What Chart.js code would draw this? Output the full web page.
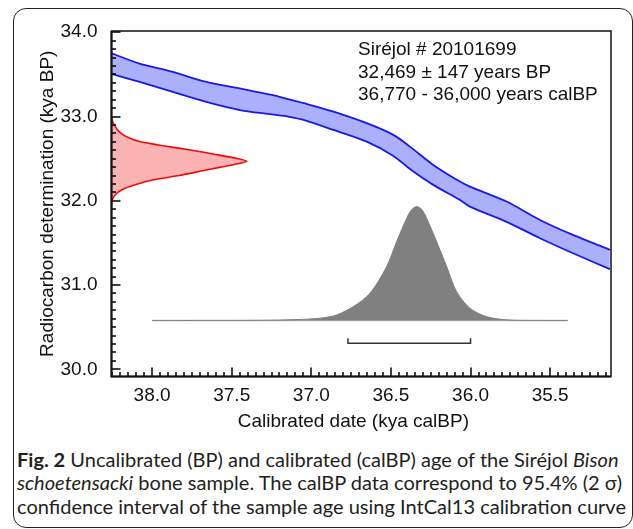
<!DOCTYPE html>
<html>
<head>
<meta charset="utf-8">
<script src="https://cdn.jsdelivr.net/npm/chart.js@4.4.1/dist/chart.umd.min.js"></script>
<style>
html, body { margin: 0; padding: 0; background: #fff; }
body { width: 633px; height: 529px; position: relative; overflow: hidden; font-family: "Liberation Sans", Arial, sans-serif; }
#frame { position: absolute; left: 13px; top: 8px; width: 620px; height: 520px; border: 1.5px solid #222; border-radius: 13px; box-sizing: border-box; }
#chart { position: absolute; left: 0; top: 0; }
#note { position: absolute; left: 358px; top: 38px; font-size: 19px; line-height: 22.7px; color: #111; white-space: nowrap; }
#caption { position: absolute; left: 17px; top: 448px; font-family: Lato, "Open Sans", sans-serif; font-size: 19.5px; line-height: 23.3px; color: #231f20; white-space: nowrap; transform-origin: 0 0; }
#caption b { font-weight: 700; }
</style>
</head>
<body>
<div id="frame"></div>
<canvas id="chart" width="633" height="445"></canvas>
<div id="note">Siréjol # 20101699<br>32,469 ± 147 years BP<br>36,770 - 36,000 years calBP</div>
<div id="caption">
  <div><b>Fig. 2</b> Uncalibrated (BP) and calibrated (calBP) age of the Siréjol <i>Bison</i></div>
  <div><i>schoetensacki</i> bone sample. The calBP data correspond to 95.4% (2 σ)</div>
  <div id="lastLine">confidence interval of the sample age using IntCal13 calibration curve</div>
</div>
<script>
// axis ticks
const xTicks = [38.0, 37.5, 37.0, 36.5, 36.0, 35.5];
const yTicks = [30.0, 31.0, 32.0, 33.0, 34.0];

// IntCal13 band (kya calBP -> kya BP)
const curveCal   = [38.255, 38.084, 37.875, 37.666, 37.457, 37.248, 37.146, 37.039, 36.861, 36.652, 36.485, 36.381, 36.234, 36.067, 36.004, 35.774, 35.564, 35.357, 35.125];
const curveUpper = [33.751, 33.632, 33.533, 33.414, 33.336, 33.256, 33.207, 33.155, 33.058, 32.921, 32.782, 32.643, 32.426, 32.228, 32.168, 31.991, 31.773, 31.595, 31.418];
const curveLower = [33.505, 33.414, 33.295, 33.177, 33.080, 33.025, 33.000, 32.955, 32.841, 32.702, 32.533, 32.378, 32.189, 32.011, 31.931, 31.750, 31.556, 31.378, 31.189];

// radiocarbon measurement (red, on the y axis)
const redBP  = [33.00, 32.95, 32.90, 32.85, 32.80, 32.75, 32.70, 32.65, 32.60, 32.55, 32.50, 32.469, 32.44, 32.40, 32.35, 32.30, 32.25, 32.20, 32.15, 32.10, 32.05, 32.00, 31.95];
const redCal = [38.255, 38.250, 38.238, 38.220, 38.195, 38.150, 38.075, 37.92, 37.75, 37.60, 37.46, 37.404, 37.46, 37.57, 37.70, 37.83, 37.99, 38.09, 38.17, 38.215, 38.240, 38.252, 38.255];

// calibrated distribution (grey)
const grayCal  = [38.0, 37.6, 37.3, 37.1, 36.945, 36.840, 36.736, 36.631, 36.527, 36.464, 36.401, 36.370, 36.339, 36.305, 36.276, 36.213, 36.150, 36.088, 36.004, 35.900, 35.774, 35.6, 35.39];
const grayDens = [30.579, 30.580, 30.582, 30.590, 30.607, 30.646, 30.745, 30.904, 31.219, 31.516, 31.794, 31.895, 31.931, 31.895, 31.794, 31.516, 31.219, 30.923, 30.726, 30.626, 30.587, 30.580, 30.579];
const grayBaseCal = [38.0, 35.39];
const grayBase = 30.579;

// 95.4% range bracket
const rangeCal = [36.77, 36.77, 36.0, 36.0];
const rangeBP  = [30.37, 30.311, 30.311, 30.37];

const pts = (xs, ys) => xs.map((v, i) => ({x: v, y: ys[i]}));

// inward ticks + plot frame
const frameTicks = {
  id: 'frameTicks',
  afterDraw(chart) {
    const {ctx, chartArea: a, scales} = chart;
    const x = scales.x, y = scales.y;
    ctx.save();
    ctx.strokeStyle = '#000';
    ctx.lineWidth = 1.5;
    ctx.beginPath();
    for (let k = 703; k <= 765; k++) {
      const px = Math.round(x.getPixelForValue(k / 20));
      const len = k % 10 === 0 ? 9 : 4.5;
      ctx.moveTo(px, a.bottom);
      ctx.lineTo(px, a.bottom - len);
    }
    for (let k = 300; k <= 340; k++) {
      const py = Math.round(y.getPixelForValue(k / 10));
      const len = k % 10 === 0 ? 9 : 4.5;
      ctx.moveTo(a.left, py);
      ctx.lineTo(a.left + len, py);
    }
    ctx.stroke();
    ctx.strokeStyle = '#111';
    ctx.lineWidth = 1.5;
    ctx.strokeRect(a.left, a.top, a.right - a.left, a.bottom - a.top);
    ctx.lineWidth = 2;
    ctx.beginPath();
    ctx.moveTo(a.left, a.top);
    ctx.lineTo(a.left, a.bottom);
    ctx.lineTo(a.right, a.bottom);
    ctx.stroke();
    ctx.restore();
  }
};

Chart.defaults.font.family = '"Liberation Sans", Arial, sans-serif';
Chart.defaults.font.size = 19;
Chart.defaults.color = '#111';

new Chart(document.getElementById('chart'), {
  type: 'line',
  data: {
    datasets: [
      {
        label: 'upper',
        data: pts(curveCal, curveUpper),
        borderColor: 'rgb(25,25,235)',
        borderWidth: 1.8,
        tension: 0.3,
        fill: false
      },
      {
        label: 'lower',
        data: pts(curveCal, curveLower),
        borderColor: 'rgb(25,25,235)',
        backgroundColor: 'rgb(172,176,252)',
        borderWidth: 1.8,
        tension: 0.3,
        fill: 0
      },
      {
        label: 'measurement',
        data: pts(redCal, redBP),
        borderColor: 'rgb(240,10,10)',
        backgroundColor: 'rgb(250,178,178)',
        borderWidth: 1.6,
        tension: 0.2,
        fill: 'shape'
      },
      {
        label: 'calibrated',
        data: pts(grayCal, grayDens),
        borderColor: 'rgb(128,128,128)',
        backgroundColor: 'rgb(128,128,128)',
        borderWidth: 1,
        tension: 0.3,
        fill: {value: grayBase}
      },
      {
        label: 'baseline',
        data: pts(grayBaseCal, [grayBase, grayBase]),
        borderColor: 'rgb(190,190,190)',
        borderWidth: 1.5,
        fill: false
      },
      {
        label: 'range',
        data: pts(rangeCal, rangeBP),
        borderColor: '#333',
        borderWidth: 1.5,
        fill: false
      }
    ]
  },
  options: {
    responsive: false,
    devicePixelRatio: 1,
    animation: false,
    layout: { padding: { left: 0, top: 31, right: 22, bottom: 0 } },
    elements: { point: { radius: 0 } },
    plugins: { legend: { display: false }, tooltip: { enabled: false } },
    scales: {
      x: {
        type: 'linear',
        reverse: true,
        min: 35.118,
        max: 38.255,
        grid: { display: false },
        border: { display: false },
        afterBuildTicks: s => { s.ticks = xTicks.map(v => ({value: v})); },
        afterFit: s => { s.height = 68.5; },
        ticks: { padding: 0, callback: v => v.toFixed(1) },
        // trailing no-break spaces nudge the centred title a little left, as in the original
        title: { display: true, text: 'Calibrated date (kya calBP)\u00a0\u00a0\u00a0', padding: { top: 0, bottom: 12 } }
      },
      y: {
        type: 'linear',
        min: 29.915,
        max: 34.015,
        grid: { display: false },
        border: { display: false },
        afterBuildTicks: s => { s.ticks = yTicks.map(v => ({value: v})); },
        afterFit: s => { s.width = 111.5; },
        ticks: { padding: 6, callback: v => v.toFixed(1) },
        title: { display: true, text: 'Radiocarbon determination (kya BP)', padding: { top: 36, bottom: 0 } }
      }
    }
  },
  plugins: [frameTicks]
});

// squeeze the caption to the width of the original text block
function fitCaption() {
  const cap = document.getElementById('caption');
  cap.style.transform = 'none';
  const w = document.getElementById('lastLine').getBoundingClientRect().width;
  cap.style.transform = 'scaleX(' + (609 / w) + ')';
}
fitCaption();
document.fonts.ready.then(fitCaption);
</script>
</body>
</html>
